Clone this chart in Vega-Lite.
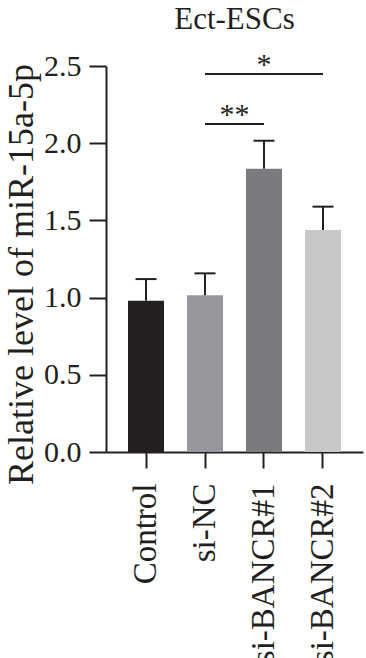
{
  "$schema": "https://vega.github.io/schema/vega-lite/v6.json",
  "autosize": {"type": "none"},
  "padding": {"left": 106, "top": 66, "right": 3, "bottom": 206},
  "width": 257,
  "height": 386,
  "title": {
    "text": "Ect-ESCs",
    "fontSize": 31,
    "fontWeight": "normal",
    "font": "Liberation Serif",
    "color": "#231f20",
    "anchor": "middle",
    "offset": 14
  },
  "datasets": {
    "bars": [
      {"group": "Control", "mean": 0.98, "upper": 1.12},
      {"group": "si-NC", "mean": 1.015, "upper": 1.157},
      {"group": "si-BANCR#1", "mean": 1.835, "upper": 2.016},
      {"group": "si-BANCR#2", "mean": 1.438, "upper": 1.589}
    ],
    "sig": [
      {"from": "si-NC", "to": "si-BANCR#1", "y": 2.124, "label": "**", "mid": "si-NC", "shift": "half"},
      {"from": "si-NC", "to": "si-BANCR#2", "y": 2.448, "label": "*", "mid": "si-BANCR#1", "shift": "none"}
    ]
  },
  "layer": [
    {
      "data": {"name": "bars"},
      "mark": {"type": "bar"},
      "encoding": {
        "x": {"field": "group", "type": "nominal", "sort": null, "title": null,
              "scale": {"domain": ["Control", "si-NC", "si-BANCR#1", "si-BANCR#2"], "paddingInner": 0.39, "paddingOuter": 0.373}},
        "y": {"field": "mean", "type": "quantitative", "title": "Relative level of miR-15a-5p",
              "scale": {"domain": [0, 2.5], "nice": false},
              "axis": {"values": [0, 0.5, 1, 1.5, 2, 2.5], "format": ".1f"}},
        "color": {"field": "group", "type": "nominal", "legend": null,
                  "scale": {"domain": ["Control", "si-NC", "si-BANCR#1", "si-BANCR#2"], "range": ["#231f20", "#96989d", "#7a7b7f", "#c8c8ca"]}}
      }
    },
    {
      "data": {"name": "bars"},
      "mark": {"type": "rule", "color": "#231f20", "strokeWidth": 2},
      "encoding": {
        "x": {"field": "group", "type": "nominal", "sort": null, "title": null},
        "y": {"field": "mean", "type": "quantitative", "title": "Relative level of miR-15a-5p"},
        "y2": {"field": "upper"}
      }
    },
    {
      "data": {"name": "bars"},
      "mark": {"type": "tick", "color": "#231f20", "thickness": 2, "size": 21, "opacity": 1},
      "encoding": {
        "x": {"field": "group", "type": "nominal", "sort": null, "title": null},
        "y": {"field": "upper", "type": "quantitative", "title": "Relative level of miR-15a-5p"}
      }
    },
    {
      "data": {"name": "sig"},
      "mark": {"type": "rule", "color": "#231f20", "strokeWidth": 2},
      "encoding": {
        "x": {"field": "from", "type": "nominal", "title": null},
        "x2": {"field": "to"},
        "y": {"field": "y", "type": "quantitative", "title": "Relative level of miR-15a-5p"}
      }
    },
    {
      "data": {"name": "sig"},
      "transform": [{"filter": "datum.shift == 'half'"}],
      "mark": {"type": "text", "font": "Liberation Serif", "fontSize": 30, "color": "#231f20", "baseline": "alphabetic", "dx": 29.5},
      "encoding": {
        "x": {"field": "mid", "type": "nominal", "title": null},
        "y": {"field": "y", "type": "quantitative", "title": "Relative level of miR-15a-5p"},
        "text": {"field": "label"}
      }
    },
    {
      "data": {"name": "sig"},
      "transform": [{"filter": "datum.shift == 'none'"}],
      "mark": {"type": "text", "font": "Liberation Serif", "fontSize": 30, "color": "#231f20", "baseline": "alphabetic"},
      "encoding": {
        "x": {"field": "mid", "type": "nominal", "title": null},
        "y": {"field": "y", "type": "quantitative", "title": "Relative level of miR-15a-5p"},
        "text": {"field": "label"}
      }
    }
  ],
  "config": {
    "view": {"stroke": null},
    "font": "Liberation Serif",
    "axis": {
      "grid": false,
      "domainColor": "#231f20",
      "domainWidth": 2,
      "tickColor": "#231f20",
      "tickWidth": 2,
      "labelColor": "#231f20",
      "labelFont": "Liberation Serif",
      "titleFont": "Liberation Serif",
      "titleColor": "#231f20",
      "titleFontWeight": "normal"
    },
    "axisX": {
      "tickSize": 16,
      "labelAngle": -90,
      "labelAlign": "right",
      "labelBaseline": "middle",
      "labelFontSize": 33,
      "labelPadding": 15
    },
    "axisY": {
      "tickSize": 17,
      "labelFontSize": 30,
      "labelPadding": 8,
      "titleFontSize": 36,
      "titleX": -66,
      "titleY": 208,
      "titleBaseline": "bottom"
    }
  }
}
